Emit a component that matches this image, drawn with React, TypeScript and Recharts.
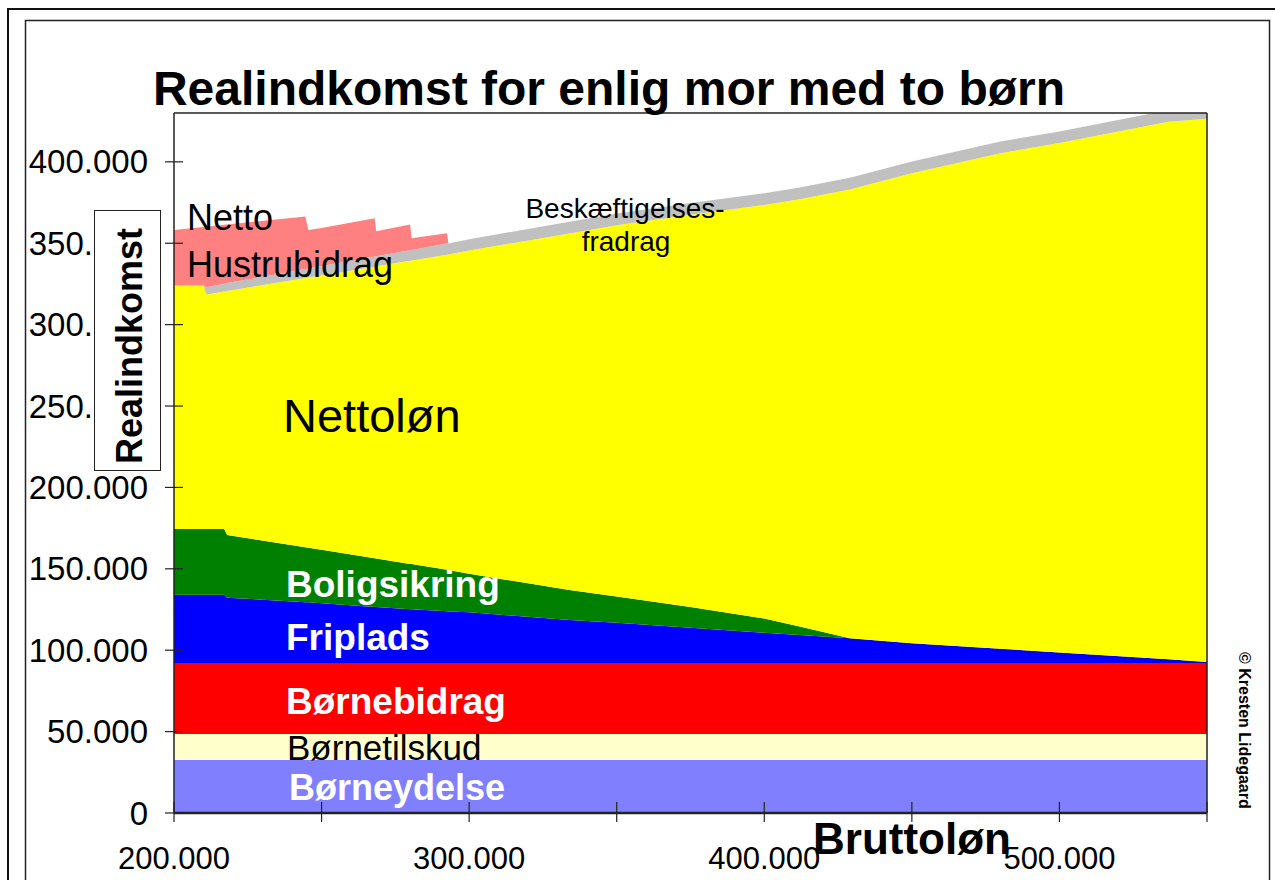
import React from 'react';
import { ComposedChart, Area, XAxis, YAxis } from 'recharts';

// Bruttoløn (kr) at the sampled points; close pairs make the vertical steps
const bruttoloen = [
  200000, 210000, 211000, 217000, 218000, 244500, 245500, 250000, 268000, 268500,
  280000, 280500, 292500, 293000, 300000, 334000, 350000, 375000, 400000, 412000,
  429000, 450000, 480000, 500000, 537000, 550000,
];

// layer thicknesses (kr), bottom to top
const boerneydelse = Array(26).fill(32600);
const boernetilskud = Array(26).fill(15900);
const boernebidrag = Array(26).fill(43700);
const friplads = [
  41800, 41800, 41800, 41800, 40100, 37300, 37200, 36600, 34400, 34300,
  33000, 32900, 31700, 31600, 31100, 26400, 24600, 21600, 18500, 17100,
  15100, 12100, 8700, 6400, 2300, 600,
];
const boligsikring = [
  40500, 40500, 40500, 40500, 38500, 33800, 33600, 32900, 29900, 29900,
  27800, 27800, 25600, 25500, 23600, 18400, 16200, 12800, 8800, 5200,
  0, 0, 0, 0, 0, 0,
];
const nettoloen = [
  149500, 149500, 144000, 145800, 149800, 165300, 165900, 168500, 179100, 179400,
  186200, 186500, 193500, 193800, 198600, 219000, 228000, 240900, 254000, 262500,
  275700, 288700, 304400, 312900, 330100, 333600,
];
const beskaeftigelsesfradrag = [
  0, 0, 4500, 4800, 4900, 5600, 5600, 5800, 6200, 6200,
  6500, 6500, 6800, 6800, 7000, 7200, 7200, 7200, 7200, 7200,
  7200, 7200, 7200, 7200, 7200, 7200,
];
const hustrubidrag = [
  34200, 36000, 37200, 36200, 36000, 32200, 23700, 23400, 23500, 15400,
  15800, 7200, 6300, 0, 0, 0, 0, 0, 0, 0,
  0, 0, 0, 0, 0, 0,
];

const xTicks = [200000, 250000, 300000, 350000, 400000, 450000, 500000, 550000];
const yTicks = [0, 50000, 100000, 150000, 200000, 250000, 300000, 350000, 400000];

const data = bruttoloen.map((b, i) => ({
  brutto: b,
  boerneydelse: boerneydelse[i],
  boernetilskud: boernetilskud[i],
  boernebidrag: boernebidrag[i],
  friplads: friplads[i],
  boligsikring: boligsikring[i],
  nettoloen: nettoloen[i],
  fradrag: beskaeftigelsesfradrag[i],
  hustrubidrag: hustrubidrag[i],
}));

const FONT = '"Liberation Sans", Arial, Helvetica, sans-serif';

const fmt = (v: number) => (v === 0 ? '0' : v.toLocaleString('de-DE'));

const YTick = (props: any) => {
  const { x, y, payload } = props;
  return (
    <g>
      <line x1={x - 9} x2={x + 9} y1={y} y2={y} stroke="#222" strokeWidth={1.2} />
      <text x={x - 26} y={y} dy="0.35em" textAnchor="end" fontSize={33} fontFamily={FONT} fill="#000">
        {fmt(payload.value)}
      </text>
    </g>
  );
};

const XTick = (props: any) => {
  const { x, y, payload } = props;
  return (
    <g>
      <line x1={x} x2={x} y1={y - 11} y2={y + 9} stroke="#222" strokeWidth={1.2} />
      {payload.value % 100000 === 0 && (
        <text x={x} y={y + 56} textAnchor="middle" fontSize={31} fontFamily={FONT} fill="#000">
          {fmt(payload.value)}
        </text>
      )}
    </g>
  );
};

const labelStyle = { fontFamily: FONT };

export default function App() {
  return (
    <div style={{ position: 'absolute', left: 0, top: 0, width: 1275, height: 880, overflow: 'hidden', background: '#fff' }}>
      <ComposedChart
        width={1275}
        height={880}
        data={data}
        margin={{ top: 113, right: 68, left: 24, bottom: 17 }}
      >
        <XAxis
          dataKey="brutto"
          type="number"
          domain={[200000, 550000]}
          ticks={xTicks}
          interval={0}
          height={50}
          tickSize={0}
          tickMargin={0}
          tickLine={false}
          axisLine={{ stroke: '#222', strokeWidth: 2.5 }}
          tick={<XTick />}
        />
        <YAxis
          type="number"
          domain={[0, 430000]}
          allowDataOverflow
          ticks={yTicks}
          interval={0}
          width={150}
          tickSize={0}
          tickMargin={0}
          tickLine={false}
          axisLine={{ stroke: '#222', strokeWidth: 1.5 }}
          tick={<YTick />}
        />
        <Area type="linear" dataKey="boerneydelse" stackId="a" stroke="none" fill="#8080FF" fillOpacity={1} isAnimationActive={false} />
        <Area type="linear" dataKey="boernetilskud" stackId="a" stroke="none" fill="#FFFFCC" fillOpacity={1} isAnimationActive={false} />
        <Area type="linear" dataKey="boernebidrag" stackId="a" stroke="none" fill="#FF0000" fillOpacity={1} isAnimationActive={false} />
        <Area type="linear" dataKey="friplads" stackId="a" stroke="none" fill="#0000FF" fillOpacity={1} isAnimationActive={false} />
        <Area type="linear" dataKey="boligsikring" stackId="a" stroke="none" fill="#008000" fillOpacity={1} isAnimationActive={false} />
        <Area type="linear" dataKey="nettoloen" stackId="a" stroke="none" fill="#FFFF00" fillOpacity={1} isAnimationActive={false} />
        <Area type="linear" dataKey="fradrag" stackId="a" stroke="none" fill="#C0C0C0" fillOpacity={1} isAnimationActive={false} />
        <Area type="linear" dataKey="hustrubidrag" stackId="a" stroke="none" fill="#FF8080" fillOpacity={1} isAnimationActive={false} />
      </ComposedChart>

      <svg
        width={1275}
        height={880}
        style={{ position: 'absolute', left: 0, top: 0, pointerEvents: 'none' }}
      >
        {/* frames */}
        <rect x={8} y={9} width={1290} height={900} fill="none" stroke="#111" strokeWidth={2} />
        <rect x={25.5} y={20.5} width={1244} height={900} fill="none" stroke="#222" strokeWidth={1.5} />
        {/* plot border top/right */}
        <line x1={174} x2={1207} y1={113} y2={113} stroke="#222" strokeWidth={1.5} />
        <line x1={1207} x2={1207} y1={113} y2={813} stroke="#222" strokeWidth={1.5} />

        <text x={609} y={105} textAnchor="middle" fontSize={48} fontWeight="bold" style={labelStyle}>
          Realindkomst for enlig mor med to børn
        </text>

        <rect x={94.5} y={210.5} width={66} height={260} fill="#fff" stroke="#222" strokeWidth={1} />
        <text
          transform="translate(142,346) rotate(-90)"
          textAnchor="middle"
          fontSize={36}
          fontWeight="bold"
          style={labelStyle}
        >
          Realindkomst
        </text>

        <text x={912} y={854} textAnchor="middle" fontSize={44} fontWeight="bold" style={labelStyle}>
          Bruttoløn
        </text>

        <text x={187} y={230} fontSize={36} style={labelStyle}>Netto</text>
        <text x={187} y={277} fontSize={36} style={labelStyle}>Hustrubidrag</text>
        <text x={625} y={218} textAnchor="middle" fontSize={28} style={labelStyle}>Beskæftigelses-</text>
        <text x={626} y={251} textAnchor="middle" fontSize={28} style={labelStyle}>fradrag</text>
        <text x={283} y={432} fontSize={47} style={labelStyle}>Nettoløn</text>
        <text x={286} y={597} fontSize={37} fontWeight="bold" fill="#fff" style={labelStyle}>Boligsikring</text>
        <text x={286} y={650} fontSize={37} fontWeight="bold" fill="#fff" style={labelStyle}>Friplads</text>
        <text x={286} y={714} fontSize={37} fontWeight="bold" fill="#fff" style={labelStyle}>Børnebidrag</text>
        <text x={287} y={760} fontSize={35} fill="#000" style={labelStyle}>Børnetilskud</text>
        <text x={289} y={800} fontSize={36} fontWeight="bold" fill="#fff" style={labelStyle}>Børneydelse</text>

        <text
          transform="translate(1239,652) rotate(90)"
          fontSize={16}
          fontWeight="bold"
          style={{ fontFamily: '"Liberation Sans Narrow", "Liberation Sans", Arial, sans-serif' }}
        >
          © Kresten Lidegaard
        </text>
      </svg>
    </div>
  );
}
